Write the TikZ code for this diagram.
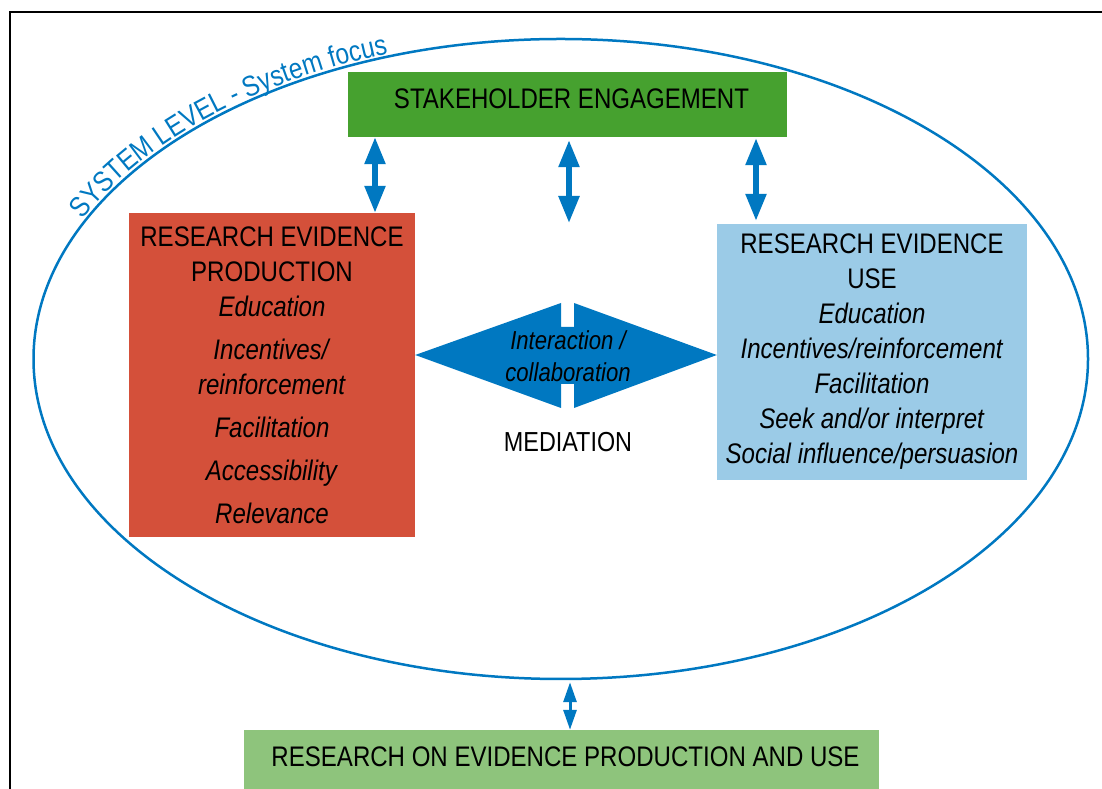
\documentclass[tikz,border=0pt]{standalone}
\usepackage{fontspec}
\setmainfont{Liberation Sans}[FakeStretch=0.85]
\newfontfamily\arcfont{Liberation Sans}[FakeStretch=0.85]
\usetikzlibrary{arrows.meta,decorations.text,calc,shapes.geometric}
\definecolor{stkgreen}{RGB}{70,161,47}
\definecolor{prodred}{RGB}{212,80,58}
\definecolor{uselblue}{RGB}{155,203,231}
\definecolor{resgreen}{RGB}{142,196,124}
\definecolor{sysblue}{RGB}{0,120,193}
\begin{document}
\begin{tikzpicture}[x=1pt,y=1pt,
  boxshape/.style={draw=none, inner sep=0pt},
  txt/.style={inner sep=0pt, align=center, font=\fontsize{28.3}{35}\selectfont},
  bigarrow/.style={sysblue, line width=5.5pt,
     arrows={Triangle[width=20pt,length=27pt]-Triangle[width=20pt,length=27pt]}},
  smallarrow/.style={sysblue, line width=3pt,
     arrows={Triangle[width=13pt,length=20pt]-Triangle[width=13pt,length=20pt]}},
]
\useasboundingbox (0,0) rectangle (1102,789);
% outer frame
\draw[line width=2.5pt] (10,-20) -- (10,777) -- (1130,777);
% system ellipse
\node[ellipse, draw=sysblue, line width=2.5pt, inner sep=0pt,
      minimum width=1054.5pt, minimum height=640pt] (sys) at (560.75,430) {};
\path[decorate, decoration={text along path,
      text={|\arcfont\fontsize{28.8}{29}\selectfont\color{sysblue}|SYSTEM LEVEL - System focus},
      raise=3pt}]
  ($(sys.center)+(154.5:527.25pt and 320pt)$) arc[start angle=154.5, end angle=95, x radius=527.25pt, y radius=320pt];
% boxes
\node[boxshape, fill=stkgreen, minimum width=439pt, minimum height=65pt] (stake) at (567.5,684.5) {};
\node[txt] (staketxt) at (571.5,690.5) {STAKEHOLDER ENGAGEMENT};
\node[boxshape, fill=prodred, minimum width=286pt, minimum height=324pt] (prod) at (272,414) {};
\node[txt, anchor=north] (prodtxt) at (272,562) {RESEARCH EVIDENCE\\PRODUCTION\\\textit{Education}\\[8pt]\textit{Incentives/}\\\textit{reinforcement}\\[8pt]\textit{Facilitation}\\[8pt]\textit{Accessibility}\\[8pt]\textit{Relevance}};
\node[boxshape, fill=uselblue, minimum width=310pt, minimum height=256pt] (use) at (872,437) {};
\node[txt, anchor=north] (usetxt) at (872,555) {RESEARCH EVIDENCE\\USE\\\textit{Education}\\\textit{Incentives/reinforcement}\\\textit{Facilitation}\\\textit{Seek and/or interpret}\\\textit{Social influence/persuasion}};
\node[boxshape, fill=resgreen, minimum width=635pt, minimum height=70pt] (res) at (561.5,24) {};
\node[txt] (restxt) at (565.5,32) {RESEARCH ON EVIDENCE PRODUCTION AND USE};
% mediation double arrow
\fill[sysblue] (prod.east |- 0,434) -- (561,486) -- (561,462) -- (574,462) -- (574,486)
   -- (use.west |- 0,434) -- (574,381) -- (574,405) -- (561,405) -- (561,381) -- cycle;
\node[txt, anchor=north, font=\fontsize{26}{32}\selectfont\itshape] (inter) at (568,459) {Interaction /\\collaboration};
\node[txt, font=\fontsize{27.5}{33}\selectfont] (med) at (568,347) {MEDIATION};
% arrows
\coordinate (xl) at (375,0);
\coordinate (xm) at (569,0);
\coordinate (xr) at (756,0);
\coordinate (xb) at (570,0);
\coordinate (mtip) at (569,566);
\draw[bigarrow] (stake.south -| xl) -- (prod.north -| xl);
\draw[bigarrow, shorten <=3pt] (stake.south -| xm) -- (mtip);
\draw[bigarrow, shorten <=1pt, shorten >=3pt] (stake.south -| xr) -- (use.north -| xr);
\draw[smallarrow, shorten <=2pt] (sys.south -| xb) -- (res.north -| xb);
\end{tikzpicture}
\end{document}
